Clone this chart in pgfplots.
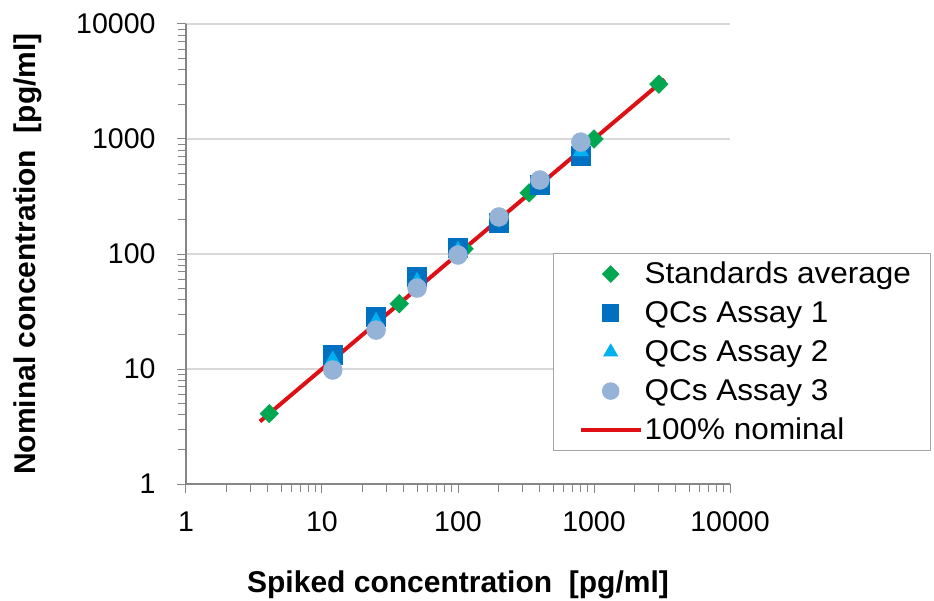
\documentclass[border=0pt]{standalone}
\usepackage{fontspec}
\setmainfont{Liberation Sans}
\newfontfamily\legendfont{Liberation Sans}[FakeStretch=1.05]
\usepackage{pgfplots}
\pgfplotsset{compat=1.18}

\definecolor{stdgreen}{RGB}{0,166,80}
\definecolor{qcone}{RGB}{0,112,192}
\definecolor{qctwo}{RGB}{0,176,240}
\definecolor{qcthree}{RGB}{149,179,215}
\definecolor{nomred}{RGB}{222,16,22}
\definecolor{axisgray}{RGB}{134,134,134}
\definecolor{gridgray}{RGB}{217,217,217}

% Spiked vs. measured concentrations [pg/ml]
\pgfplotstableread{
x y
4.1 4.1
37 37
111 111
333 340
1000 1000
3000 3000
}\standards
\pgfplotstableread{
x y
12 13.2
25 28.4
50 63
100 113
200 186
400 400
800 710
}\assayone
\pgfplotstableread{
x y
12 12
25 26
50 58
100 108
200 200
400 420
800 780
}\assaytwo
\pgfplotstableread{
x y
12 9.8
25 21.8
50 50.6
100 98
200 210
400 440
800 940
}\assaythree
\pgfplotstableread{
x y
3.5 3.5
3300 3300
}\nominal

\begin{document}
\begin{tikzpicture}
\path[use as bounding box] (-186pt,-116pt) rectangle (748pt,484pt);
\begin{axis}[
  scale only axis,
  width=544pt, height=460pt,
  xmode=log, ymode=log,
  xmin=1, xmax=10000, ymin=1, ymax=10000,
  axis x line*=bottom, axis y line*=left,
  axis line style={axisgray, line width=1.2pt},
  tick align=outside,
  major tick length=9pt, minor tick length=8pt,
  every tick/.style={axisgray, line width=1pt},
  ymajorgrids, major grid style={gridgray, line width=1.2pt},
  xtick={1,10,100,1000,10000},
  xticklabels={1,10,100,1000,10000},
  ytick={1,10,100,1000,10000},
  yticklabels={1,10,100,1000,10000},
  ticklabel style={font=\fontsize{28.5}{34}\selectfont},
  xticklabel style={yshift=-15pt},
  yticklabel style={xshift=-18pt},
  label style={font=\fontsize{30}{36}\bfseries},
  xlabel={Spiked concentration\ \ [pg/ml]},
  ylabel={Nominal concentration\ \ [pg/ml]},
  xlabel style={at={(axis description cs:0.5,-0.22)}, anchor=center},
  ylabel style={at={(axis description cs:-0.290,0.5)}, anchor=center},
  legend image code/.code={\path (0pt,0pt);
      \draw[mark repeat=2,mark phase=2,#1,
            every mark/.append style={scale=0.87}]
      plot coordinates {(7pt,0pt) (37pt,0pt) (67pt,0pt)};},
  legend cell align=left,
  legend style={at={(axis description cs:0.675,0.502)}, anchor=north west,
    draw={rgb,255:red,166;green,166;blue,166}, line width=1pt,
    font=\legendfont\fontsize{30}{36}\selectfont,
    inner xsep=18pt, inner ysep=6pt, row sep=10pt,
    nodes={inner sep=2pt, text height=22pt, text depth=3pt}},
]
\addplot[nomred, line width=4pt, forget plot] table {\nominal};
\addplot[only marks, mark=square*, mark size=6.6pt,
  mark options={rotate=45, fill=stdgreen, draw=stdgreen}] table {\standards};
\addlegendentry{Standards average}
\addplot[only marks, mark=square*, mark size=9.5pt,
  mark options={fill=qcone, draw=qcone}] table {\assayone};
\addlegendentry{QCs Assay 1}
\addplot[only marks, mark=triangle*, mark size=9pt,
  mark options={fill=qctwo, draw=qctwo}] table {\assaytwo};
\addlegendentry{QCs Assay 2}
\addplot[only marks, mark=*, mark size=9.5pt,
  mark options={fill=qcthree, draw=qcthree}] table {\assaythree};
\addlegendentry{QCs Assay 3}
\addlegendimage{nomred, line width=4pt}
\addlegendentry{100\% nominal}
\end{axis}
\end{tikzpicture}
\end{document}
